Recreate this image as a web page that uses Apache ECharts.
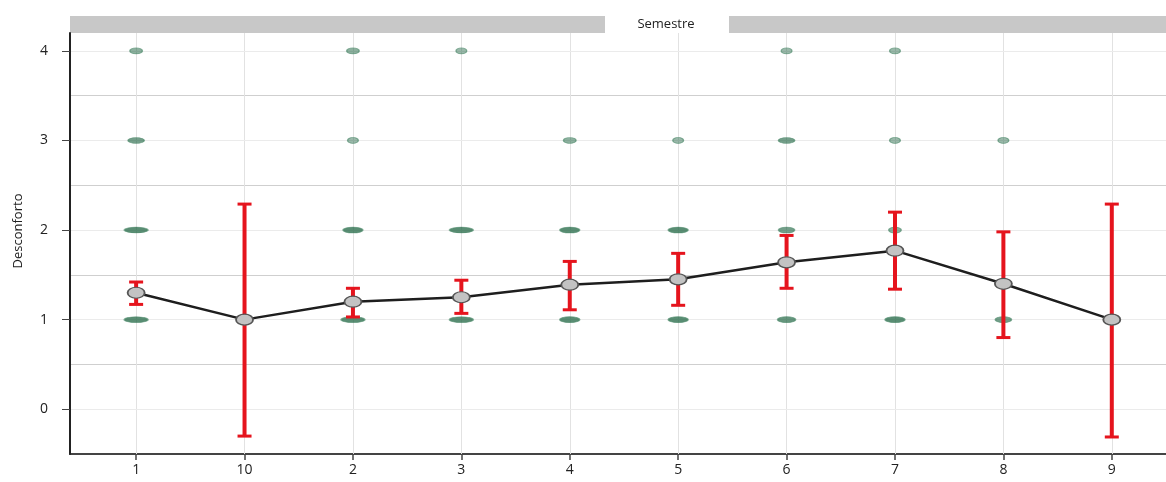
<!DOCTYPE html>
<html>
<head>
<meta charset="utf-8">
<script src="https://cdn.jsdelivr.net/npm/echarts@6/dist/echarts.min.js"></script>
<style>
html,body{margin:0;padding:0;background:#fff;}
#chart{width:1166px;height:482px;}
</style>
</head>
<body>
<div id="chart"></div>
<script>
// ---- data ----
const categories = ['1','10','2','3','4','5','6','7','8','9'];
const meanValues = [1.30, 1.00, 1.20, 1.25, 1.39, 1.45, 1.64, 1.77, 1.40, 1.00];
const errLow     = [1.17, -0.30, 1.03, 1.07, 1.11, 1.16, 1.35, 1.34, 0.80, -0.31];
const errHigh    = [1.42, 2.29, 1.35, 1.44, 1.65, 1.74, 1.94, 2.20, 1.98, 2.29];
const levels = [1, 2, 3, 4];
// approximate number of responses per category at each level
const countsLevel1 = [8, 1, 8, 8, 6, 6, 5, 6, 4, 1];
const countsLevel2 = [8, 0, 6, 8, 6, 6, 4, 2, 0, 0];
const countsLevel3 = [4, 0, 1, 0, 2, 1, 4, 1, 1, 0];
const countsLevel4 = [2, 0, 2, 1, 0, 0, 1, 1, 0, 0];
const yTickValues = [0, 1, 2, 3, 4];
const axisTitle = 'Desconforto';
const panelTitle = 'Semestre';

// ---- build ----
const catIdx = categories.map((c, i) => i);
const countsByLevel = [countsLevel1, countsLevel2, countsLevel3, countsLevel4];
const scatterData = [];
levels.forEach((lv, li) => {
  countsByLevel[li].forEach((n, ci) => {
    if (n > 0) scatterData.push([ci, lv, n]);
  });
});
const meanData = meanValues.map((v, i) => [i, v]);
const errData = errLow.map((lo, i) => [i, lo, errHigh[i]]);

const FONT = '"Open Sans", "DejaVu Sans", sans-serif';
const chart = echarts.init(document.getElementById('chart'), null, {renderer: 'canvas'});

const option = {
  animation: false,
  backgroundColor: '#fff',
  graphic: [
    {type: 'rect', shape: {x: 70, y: 16, width: 1096, height: 17}, style: {fill: '#c8c8c8'}, z: 1, silent: true},
    {type: 'rect', shape: {x: 605, y: 14, width: 124, height: 19}, style: {fill: '#fff'}, z: 2, silent: true},
    {type: 'text', x: 666, y: 24,
     style: {text: panelTitle, font: '13px ' + FONT, fill: '#222', align: 'center', verticalAlign: 'middle'}, z: 3, silent: true},
    {type: 'text', x: 18, y: 231, rotation: Math.PI / 2,
     style: {text: axisTitle, font: '13px ' + FONT, fill: '#222', align: 'center', verticalAlign: 'middle'}, z: 5, silent: true}
  ],
  grid: {left: 70, right: 0, top: 33, bottom: 28, containLabel: false},
  xAxis: {
    type: 'value',
    min: -0.61, max: 9.5,
    axisLine: {show: true, onZero: false, lineStyle: {color: '#444', width: 2}},
    axisTick: {show: true, inside: false, customValues: catIdx, length: 6, lineStyle: {color: '#444', width: 1.5}},
    axisLabel: {
      customValues: catIdx,
      formatter: v => (Number.isInteger(v) && categories[v] !== undefined) ? categories[v] : '',
      fontFamily: FONT, fontSize: 14, color: '#222', margin: 9
    },
    splitLine: {show: false}
  },
  yAxis: [
    {
      type: 'value',
      min: -0.5, max: 4.2, interval: 0.5,
      axisLine: {show: true, onZero: false, lineStyle: {color: '#222', width: 2}},
      axisTick: {show: true, inside: false, customValues: yTickValues, length: 8, lineStyle: {color: '#444', width: 1}},
      axisLabel: {
        customValues: yTickValues,
        formatter: v => Number.isInteger(v) ? String(v) : '',
        fontFamily: FONT, fontSize: 14, color: '#222', margin: 22
      },
      splitLine: {show: true, lineStyle: {color: '#ebebeb', width: 1}},
      z: 3
    },
    {
      type: 'value',
      min: -0.5, max: 4.2, interval: 0.5,
      axisLine: {show: false}, axisTick: {show: false}, axisLabel: {show: false},
      splitLine: {show: true, showMinLine: false, showMaxLine: false, lineStyle: {color: ['#ebebeb', '#cfcfcf'], width: 1}},
      z: 0
    }
  ],
  series: [
    {
      type: 'line', data: [], z: 1, silent: true,
      markLine: {
        silent: true, symbol: 'none', animation: false, z: 1,
        label: {show: false},
        lineStyle: {color: '#e2e2e2', type: 'solid', width: 1},
        emphasis: {disabled: true},
        data: catIdx.map(i => ({xAxis: i}))
      }
    },
    {
      type: 'scatter', name: 'responses', z: 3,
      data: scatterData,
      symbol: 'circle',
      symbolSize: v => [9 + v[2] * 1.8, 6],
      itemStyle: {
        color: p => 'rgba(30,100,65,' + Math.min(0.92, 0.5 + p.value[2] * 0.07).toFixed(2) + ')',
        borderColor: 'rgba(80,140,110,0.85)', borderWidth: 1
      }
    },
    {
      type: 'custom', name: 'error', z: 4,
      data: errData,
      renderItem: (params, api) => {
        const x = api.value(0);
        const lo = api.coord([x, api.value(1)]);
        const hi = api.coord([x, api.value(2)]);
        const half = 7;
        return {
          type: 'group',
          children: [
            {type: 'rect', shape: {x: lo[0] - 2, y: hi[1], width: 4, height: lo[1] - hi[1]}, style: {fill: '#e5141d'}},
            {type: 'rect', shape: {x: lo[0] - half, y: lo[1] - 1.5, width: half * 2, height: 3}, style: {fill: '#e5141d'}},
            {type: 'rect', shape: {x: hi[0] - half, y: hi[1] - 1.5, width: half * 2, height: 3}, style: {fill: '#e5141d'}}
          ]
        };
      }
    },
    {
      type: 'line', name: 'mean', z: 5,
      data: meanData,
      symbol: 'circle', symbolSize: [17, 11], showAllSymbol: true,
      lineStyle: {color: '#1e1e1e', width: 2.5},
      itemStyle: {color: '#c3c3c3', borderColor: '#555', borderWidth: 1.5}
    }
  ]
};
chart.setOption(option);
</script>
</body>
</html>
